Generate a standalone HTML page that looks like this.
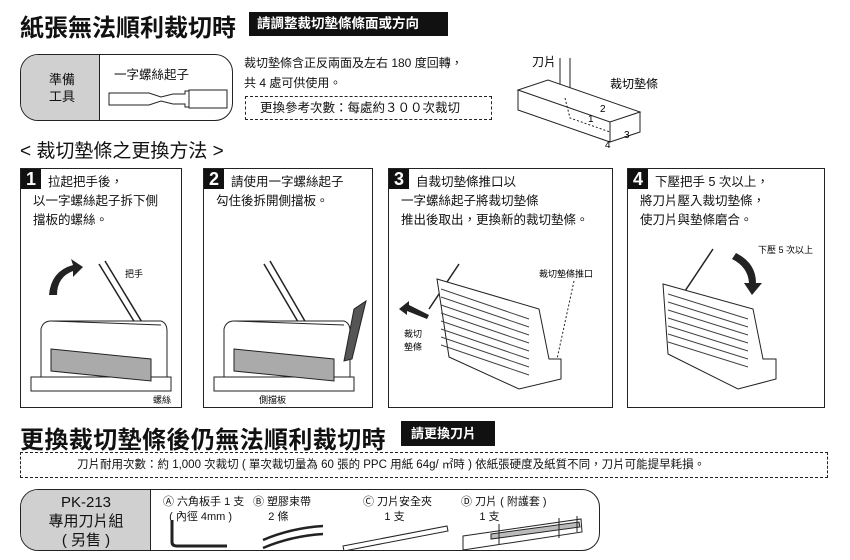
<!DOCTYPE html>
<html><head><meta charset="utf-8"><style>
*{margin:0;padding:0;box-sizing:border-box}
body{width:850px;height:560px;background:#fff;position:relative;overflow:hidden;font-family:"Liberation Sans","Noto Sans CJK TC",sans-serif;color:#111}
.a{position:absolute;white-space:nowrap}
.blk{background:#111;color:#fff;font-weight:bold}
.panel{position:absolute;border:1.5px solid #222;top:168px;height:240px}
.num{position:absolute;left:0;top:0;width:20px;height:20px;background:#111;color:#fff;font-weight:bold;font-size:18px;text-align:center;line-height:20px}
.pt{position:absolute;font-size:12.5px;line-height:19px;white-space:nowrap}
</style></head><body>
<div class="a" style="left:20px;top:8px;font-size:24px;font-weight:bold">紙張無法順利裁切時</div>
<div class="a blk" style="left:249px;top:12px;width:199px;height:24px;font-size:13.5px;line-height:24px;padding-left:8px">請調整裁切墊條條面或方向</div>

<div class="a" style="left:20px;top:54px;width:213px;height:67px;border:1.5px solid #222;border-radius:18px;overflow:hidden">
 <div style="position:absolute;left:0;top:0;width:79px;height:100%;background:#d0d0d0;border-right:1.5px solid #222"></div>
 <div class="a" style="left:28px;top:16px;font-size:13px;line-height:17px">準備<br>工具</div>
 <div class="a" style="left:93px;top:9px;font-size:12.5px">一字螺絲起子</div>
 <svg class="a" style="left:86px;top:32px" width="130" height="25"><path d="M2 6 h40 l12 4 l12-3 h12 v-3 h4 v16 h-4 v-3 h-12 l-12-3 l-12 4 h-40z" fill="#fff" stroke="#222"/><rect x="82" y="3" width="38" height="18" fill="#fff" stroke="#222"/></svg>
</div>
<div class="a" style="left:244px;top:53px;font-size:12px;line-height:20px">裁切墊條含正反兩面及左右 180 度回轉，<br>共 4 處可供使用。</div>
<div class="a" style="left:245px;top:96px;width:247px;height:24px;border:1.3px dashed #222;font-size:12.5px;line-height:22px;padding-left:14px">更換參考次數：每處約３００次裁切</div>

<svg class="a" style="left:510px;top:50px" width="160" height="110">
<text x="22" y="16" font-size="12" font-family="Liberation Sans,Noto Sans CJK TC">刀片</text>
<text x="100" y="38" font-size="12" font-family="Liberation Sans,Noto Sans CJK TC">裁切墊條</text>
<path d="M50 8 L50 42 L56 48 L60 42 L60 8" fill="#fff" stroke="#222"/>
<path d="M8 40 L100 72 L130 62 L38 30 Z M8 40 L8 60 L100 92 L100 72 M100 92 L130 82 L130 62" fill="#fff" stroke="#222"/>
<path d="M55 48 L60 68 L100 82" fill="none" stroke="#222" stroke-dasharray="2,2"/>
<text x="90" y="62" font-size="10">2</text><text x="78" y="72" font-size="10">1</text><text x="114" y="88" font-size="10">3</text><text x="95" y="98" font-size="10">4</text>
</svg>

<div class="a" style="left:20px;top:136px;font-size:19px">&lt; 裁切墊條之更換方法 &gt;</div>

<svg width="0" height="0" style="position:absolute"><defs>
<g id="mach"><path d="M20 130 L20 80 Q22 72 30 72 L140 72 Q146 74 146 82 L146 130 Z" fill="#fff" stroke="#222"/><path d="M10 128 L150 128 L150 142 L10 142 Z" fill="#fff" stroke="#222"/><path d="M30 100 L130 110 L130 132 L30 122 Z" fill="#aaa" stroke="#222"/><path d="M30 72 L140 76" stroke="#222"/></g>
</defs></svg>

<div class="panel" style="left:20px;width:162px">
 <div class="num">1</div>
 <div class="pt" style="left:27px;top:4px">拉起把手後，</div>
 <div class="pt" style="left:12px;top:23px">以一字螺絲起子拆下側<br>擋板的螺絲。</div>
 <svg class="a" style="left:0;top:80px" width="160" height="158"><path d="M78 15 L130 100 M84 12 L136 98" stroke="#222" stroke-width="1.5"/><path d="M28 46 Q30 22 52 16 L50 10 L62 18 L52 28 L52 22 Q36 28 36 46Z" fill="#222"/><use href="#mach"/><text x="104" y="28" font-size="9">把手</text><text x="132" y="154" font-size="9">螺絲</text></svg>
</div>
<div class="panel" style="left:203px;width:170px">
 <div class="num">2</div>
 <div class="pt" style="left:27px;top:4px">請使用一字螺絲起子</div>
 <div class="pt" style="left:12px;top:23px">勾住後拆開側擋板。</div>
 <svg class="a" style="left:0;top:80px" width="168" height="158"><path d="M60 15 L110 100 M66 12 L116 98" stroke="#222" stroke-width="1.5"/><use href="#mach"/><path d="M150 60 L162 52 L148 110 L140 112Z" fill="#555" stroke="#222"/><text x="55" y="154" font-size="9">側擋板</text></svg>
</div>
<div class="panel" style="left:388px;width:225px">
 <div class="num">3</div>
 <div class="pt" style="left:27px;top:4px">自裁切墊條推口以</div>
 <div class="pt" style="left:12px;top:23px">一字螺絲起子將裁切墊條<br>推出後取出，更換新的裁切墊條。</div>
 <svg class="a" style="left:0;top:70px" width="222" height="168"><path d="M70 25 L40 70" stroke="#222" stroke-width="1.5"/><path d="M48 40 L150 70 L160 120 L172 120 L172 140 L130 150 L60 118 Z" fill="#fff" stroke="#222"/><g stroke="#444"><path d="M52 50 L140 80 M52 58 L140 88 M52 66 L140 96 M52 74 L140 104 M52 82 L140 112 M52 90 L140 120 M52 98 L140 128 M52 106 L140 136"/></g><path d="M10 70 L20 62 L20 66 L40 76 L38 80 L18 72 L18 76Z" fill="#222"/><text x="15" y="98" font-size="9">裁切</text><text x="15" y="111" font-size="9">墊條</text><text x="150" y="38" font-size="9">裁切墊條推口</text><path d="M185 42 L168 120" stroke="#222" stroke-dasharray="2,2"/></svg>
</div>
<div class="panel" style="left:627px;width:198px">
 <div class="num">4</div>
 <div class="pt" style="left:27px;top:4px">下壓把手 5 次以上，</div>
 <div class="pt" style="left:12px;top:23px">將刀片壓入裁切墊條，<br>使刀片與墊條磨合。</div>
 <svg class="a" style="left:0;top:70px" width="196" height="168"><path d="M85 10 L55 55" stroke="#222" stroke-width="1.5"/><path d="M35 45 L125 70 L135 120 L148 120 L148 140 L110 150 L40 115 Z" fill="#fff" stroke="#222"/><g stroke="#444"><path d="M40 55 L120 80 M40 63 L120 88 M40 71 L120 96 M40 79 L120 104 M40 87 L120 112 M40 95 L120 120 M40 103 L120 128"/></g><path d="M108 14 Q128 24 128 44 L134 44 L124 56 L116 44 L121 44 Q120 28 104 20Z" fill="#222"/><text x="130" y="14" font-size="9">下壓 5 次以上</text></svg>
</div>

<div class="a" style="left:20px;top:420px;font-size:24px;font-weight:bold;letter-spacing:0.4px">更換裁切墊條後仍無法順利裁切時</div>
<div class="a blk" style="left:401px;top:421px;width:94px;height:25px;font-size:13px;line-height:25px;padding-left:10px">請更換刀片</div>
<div class="a" style="left:20px;top:452px;width:808px;height:26px;border:1.3px dashed #222;font-size:11.5px;line-height:24px;padding-left:56px">刀片耐用次數：約 1,000 次裁切 ( 單次裁切量為 60 張的 PPC 用紙 64g/ ㎡時 ) 依紙張硬度及紙質不同，刀片可能提早耗損。</div>

<div class="a" style="left:20px;top:489px;width:580px;height:62px;border:1.5px solid #222;border-radius:18px;overflow:hidden">
 <div style="position:absolute;left:0;top:0;width:130px;height:100%;background:#d0d0d0;border-right:1.5px solid #222"></div>
 <div class="a" style="left:0;top:3px;width:130px;text-align:center;font-size:15px;line-height:19px;white-space:normal">PK-213<br>專用刀片組<br>( 另售 )</div>
 <div class="a" style="left:142px;top:5px;font-size:11px;line-height:15px">Ⓐ 六角板手 1 支<br>&nbsp;&nbsp;( 內徑 4mm )</div>
 <div class="a" style="left:232px;top:5px;font-size:11px;line-height:15px">Ⓑ 塑膠束帶<br>&nbsp;&nbsp;&nbsp;&nbsp;&nbsp;2 條</div>
 <div class="a" style="left:342px;top:5px;font-size:11px;line-height:15px">Ⓒ 刀片安全夾<br>&nbsp;&nbsp;&nbsp;&nbsp;&nbsp;&nbsp;&nbsp;1 支</div>
 <div class="a" style="left:440px;top:5px;font-size:11px;line-height:15px">Ⓓ 刀片 ( 附護套 )<br>&nbsp;&nbsp;&nbsp;&nbsp;&nbsp;&nbsp;1 支</div>
 <svg class="a" style="left:140px;top:24px" width="430" height="38"><path d="M11 6 V28 Q11 32 16 32 H66" fill="none" stroke="#222" stroke-width="3"/><path d="M102 26 Q130 14 162 12 M102 34 Q130 22 162 20" stroke="#222" stroke-width="2.5" fill="none"/><path d="M182 32 L286 12 L287 17 L183 37Z" fill="#fff" stroke="#222"/><path d="M302 22 L420 5 L421 18 L302 36Z" fill="#fff" stroke="#222"/><path d="M330 20 L418 8 L419 13 L330 25Z" fill="#bbb" stroke="#222"/><path d="M338 10 V30 M398 4 V24 M416 2 V18" stroke="#222"/></svg>
</div>
</body></html>
